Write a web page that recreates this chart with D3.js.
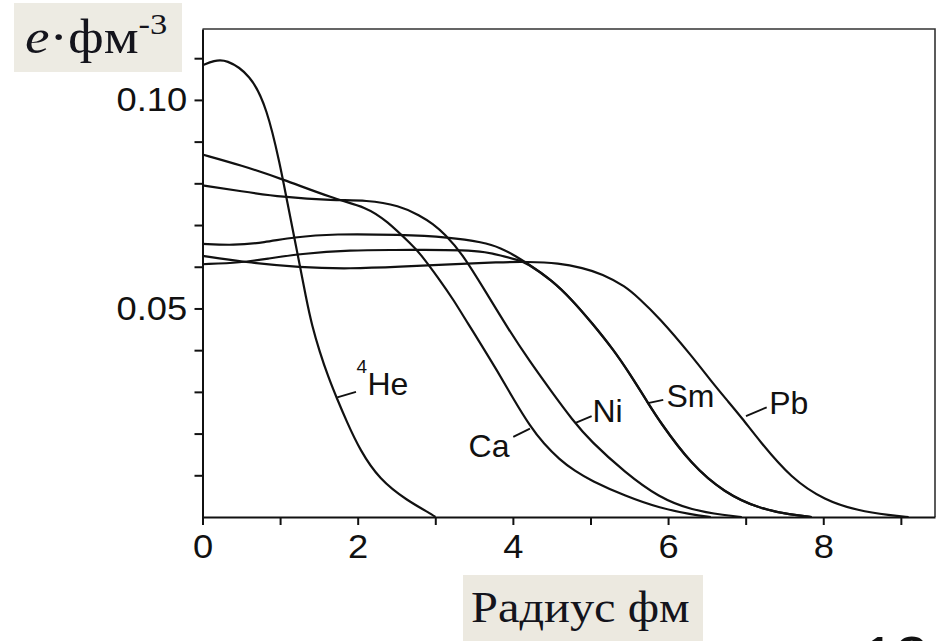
<!DOCTYPE html>
<html>
<head>
<meta charset="utf-8">
<script src="https://cdn.jsdelivr.net/npm/d3@7"></script>
<style>
  html, body { margin: 0; padding: 0; background: #fff; }
  svg { display: block; }
</style>
</head>
<body>
<svg width="936" height="641"></svg>
<script>
// charge density (e/fm^3) against radius (fm)
const heR   = [0, 0.15, 0.30, 0.62, 0.83, 1.00, 1.09, 1.22, 1.34, 1.41, 1.51, 1.62, 1.73, 1.86, 2.03, 2.28, 2.63, 2.97, 3.00];
const heRho = [0.1083, 0.1094, 0.1098, 0.1061, 0.0981, 0.0845, 0.0757, 0.0636, 0.0520, 0.0460, 0.0396, 0.0336, 0.0285, 0.0228, 0.0160, 0.0090, 0.0040, 0.0005, 0];

const caR   = [0, 0.50, 1.02, 1.69, 2.11, 2.37, 2.71, 2.80, 3.06, 3.23, 3.44, 3.57, 3.80, 4.00, 4.22, 4.40, 4.60, 4.80, 5.00, 5.45, 5.90, 6.30, 6.55];
const caRho = [0.0869, 0.0843, 0.0811, 0.0763, 0.0743, 0.0711, 0.0650, 0.0633, 0.0568, 0.0522, 0.0458, 0.0420, 0.0350, 0.0285, 0.0218, 0.0175, 0.0138, 0.0110, 0.0088, 0.0050, 0.0021, 0.0006, 0];

const niR   = [0, 0.50, 1.02, 1.69, 2.11, 2.54, 2.80, 2.97, 3.12, 3.35, 3.65, 3.95, 4.21, 4.50, 4.77, 5.00, 5.45, 5.88, 6.31, 6.74, 6.95];
const niRho = [0.0795, 0.0781, 0.0767, 0.0759, 0.0760, 0.0747, 0.0723, 0.0703, 0.0679, 0.0631, 0.0540, 0.0448, 0.0375, 0.0300, 0.0232, 0.0182, 0.0106, 0.0047, 0.0016, 0.0004, 0];

const smR   = [0, 0.40, 0.80, 1.17, 1.69, 2.54, 3.18, 3.61, 3.85, 4.04, 4.17, 4.51, 4.77, 5.02, 5.30, 5.50, 5.74, 5.88, 6.30, 6.73, 7.16, 7.59, 7.85];
const smRho = [0.0655, 0.0651, 0.0658, 0.0671, 0.0679, 0.0677, 0.0671, 0.0659, 0.0645, 0.0625, 0.0610, 0.0567, 0.0519, 0.0465, 0.0400, 0.0345, 0.0274, 0.0232, 0.0125, 0.0058, 0.0021, 0.0005, 0];

// second unlabelled curve that joins the Sm tail
const sm2R   = [0, 0.50, 0.83, 1.26, 1.90, 2.55, 2.80, 3.40, 3.65, 3.83, 4.08, 4.17, 4.51, 4.77, 5.02, 5.30, 5.50, 5.74, 5.88, 6.30, 6.73, 7.16, 7.59, 7.85];
const sm2Rho = [0.0606, 0.0610, 0.0619, 0.0631, 0.0640, 0.0640, 0.0641, 0.0640, 0.0635, 0.0628, 0.0615, 0.0610, 0.0567, 0.0519, 0.0465, 0.0400, 0.0345, 0.0274, 0.0232, 0.0125, 0.0058, 0.0021, 0.0005, 0];

const pbR   = [0, 0.53, 1.26, 1.90, 2.55, 3.19, 3.83, 4.17, 4.60, 4.90, 5.15, 5.45, 5.62, 5.88, 6.31, 6.55, 6.76, 6.95, 7.18, 7.59, 8.02, 8.45, 8.87, 9.10];
const pbRho = [0.0626, 0.0611, 0.0598, 0.0595, 0.0600, 0.0606, 0.0611, 0.0612, 0.0609, 0.0597, 0.0583, 0.0553, 0.0525, 0.0479, 0.0385, 0.0327, 0.0280, 0.0238, 0.0182, 0.0092, 0.0040, 0.0015, 0.0004, 0];

const xTicks = [0, 1, 2, 3, 4, 5, 6, 7, 8, 9];
const xLabelled = [0, 2, 4, 6, 8];
const yTicks = [0.01, 0.02, 0.03, 0.04, 0.05, 0.06, 0.07, 0.08, 0.09, 0.10, 0.11];
const yLabelled = ["0.05", "0.10"];

const series = [
  [heR, heRho], [caR, caRho], [niR, niRho], [smR, smRho], [sm2R, sm2Rho], [pbR, pbRho]
].map(([r, rho]) => r.map((v, i) => [v, rho[i]]));

// curve labels: point on curve, leader end, text anchor (all in data units)
const notes = [
  { text: "He", sup: "4", cx: 1.737, cy: 0.0287, lx: 1.978, ly: 0.0300, tx: 2.126, ty: 0.0292, anchor: "start" },
  { text: "Ca", cx: 4.22, cy: 0.0212, lx: 4.005, ly: 0.0192, tx: 3.956, ty: 0.0145, anchor: "end" },
  { text: "Ni", cx: 4.80, cy: 0.0225, lx: 5.015, ly: 0.0242, tx: 5.026, ty: 0.0228, anchor: "start" },
  { text: "Sm", cx: 5.741, cy: 0.0273, lx: 5.938, ly: 0.0281, tx: 5.98, ty: 0.0264, anchor: "start" },
  { text: "Pb", cx: 7.004, cy: 0.0242, lx: 7.271, ly: 0.0263, tx: 7.304, ty: 0.0247, anchor: "start" }
];

const svg = d3.select("svg");
const x = d3.scaleLinear().domain([0, 9.44]).range([202.5, 935]);
const y = d3.scaleLinear().domain([0, 0.117]).range([517, 29]);

// frame top/right
svg.append("path")
  .attr("d", `M${x(0)},${y(0.117)}H${x(9.44)}V${y(0)}`)
  .attr("fill", "none")
  .attr("stroke", "#333")
  .attr("stroke-width", 1.6);

const tickFont = g => g.selectAll("text")
  .attr("font-family", "'Liberation Sans', Arial, sans-serif")
  .attr("font-size", 33)
  .attr("fill", "#111")
  .attr("transform", "scale(1.1,1)");

const xAxis = d3.axisBottom(x)
  .tickValues(xTicks)
  .tickSize(8)
  .tickSizeOuter(0)
  .tickPadding(10)
  .tickFormat(d => xLabelled.includes(d) ? String(d) : "");

svg.append("g")
  .attr("transform", `translate(0,${y(0)})`)
  .call(xAxis)
  .call(tickFont)
  .call(g => g.selectAll("path,line").attr("stroke", "#111").attr("stroke-width", 2));

const yAxis = d3.axisLeft(y)
  .tickValues(yTicks)
  .tickSize(8)
  .tickSizeOuter(0)
  .tickPadding(6)
  .tickFormat(d => {
    const s = d3.format(".2f")(d);
    return yLabelled.includes(s) ? s : "";
  });

svg.append("g")
  .attr("transform", `translate(${x(0)},0)`)
  .call(yAxis)
  .call(tickFont)
  .call(g => g.selectAll("path,line").attr("stroke", "#111").attr("stroke-width", 2));

// curves
const line = d3.line()
  .x(d => x(d[0]))
  .y(d => y(d[1]))
  .curve(d3.curveBasis);

svg.append("g")
  .selectAll("path")
  .data(series)
  .join("path")
  .attr("d", line)
  .attr("fill", "none")
  .attr("stroke", "#111")
  .attr("stroke-width", 2.2);

// curve labels
const note = svg.append("g").selectAll("g").data(notes).join("g");
note.append("line")
  .attr("x1", d => x(d.cx)).attr("y1", d => y(d.cy))
  .attr("x2", d => x(d.lx)).attr("y2", d => y(d.ly))
  .attr("stroke", "#111")
  .attr("stroke-width", 1.8);
note.append("text")
  .attr("x", d => x(d.tx))
  .attr("y", d => y(d.ty))
  .attr("text-anchor", d => d.anchor)
  .attr("font-family", "'Liberation Sans', Arial, sans-serif")
  .attr("font-size", 32)
  .attr("fill", "#111")
  .text(d => d.text);
note.filter(d => d.sup)
  .append("text")
  .attr("x", d => x(d.tx) - 11)
  .attr("y", d => y(d.ty) - 22)
  .attr("font-family", "'Liberation Sans', Arial, sans-serif")
  .attr("font-size", 19)
  .attr("fill", "#111")
  .text(d => d.sup);

// axis titles on beige boxes
svg.append("rect")
  .attr("x", 14).attr("y", 3).attr("width", 168).attr("height", 69)
  .attr("fill", "#edebe3");
const yTitle = svg.append("text")
  .attr("transform", "translate(25,53) scale(1.15,1)")
  .attr("font-family", "'Liberation Serif', 'Times New Roman', serif")
  .attr("font-size", 48)
  .attr("fill", "#14141c");
yTitle.append("tspan").attr("font-style", "italic").text("e");
yTitle.append("tspan").text("·фм");
yTitle.append("tspan").attr("font-size", 30).attr("dy", -19).text("-3");

svg.append("rect")
  .attr("x", 463).attr("y", 575).attr("width", 240).attr("height", 70)
  .attr("fill", "#ece9e0");
svg.append("text")
  .attr("transform", "translate(471,622) scale(1.1,1)")
  .attr("font-family", "'Liberation Serif', 'Times New Roman', serif")
  .attr("font-size", 44)
  .attr("fill", "#14141c")
  .text("Радиус фм");

// page number, cut off by the bottom edge as in the source
svg.append("text")
  .attr("x", 862).attr("y", 678)
  .attr("font-family", "'Liberation Sans', Arial, sans-serif")
  .attr("font-size", 60)
  .attr("fill", "#111")
  .text("13");
</script>
</body>
</html>
